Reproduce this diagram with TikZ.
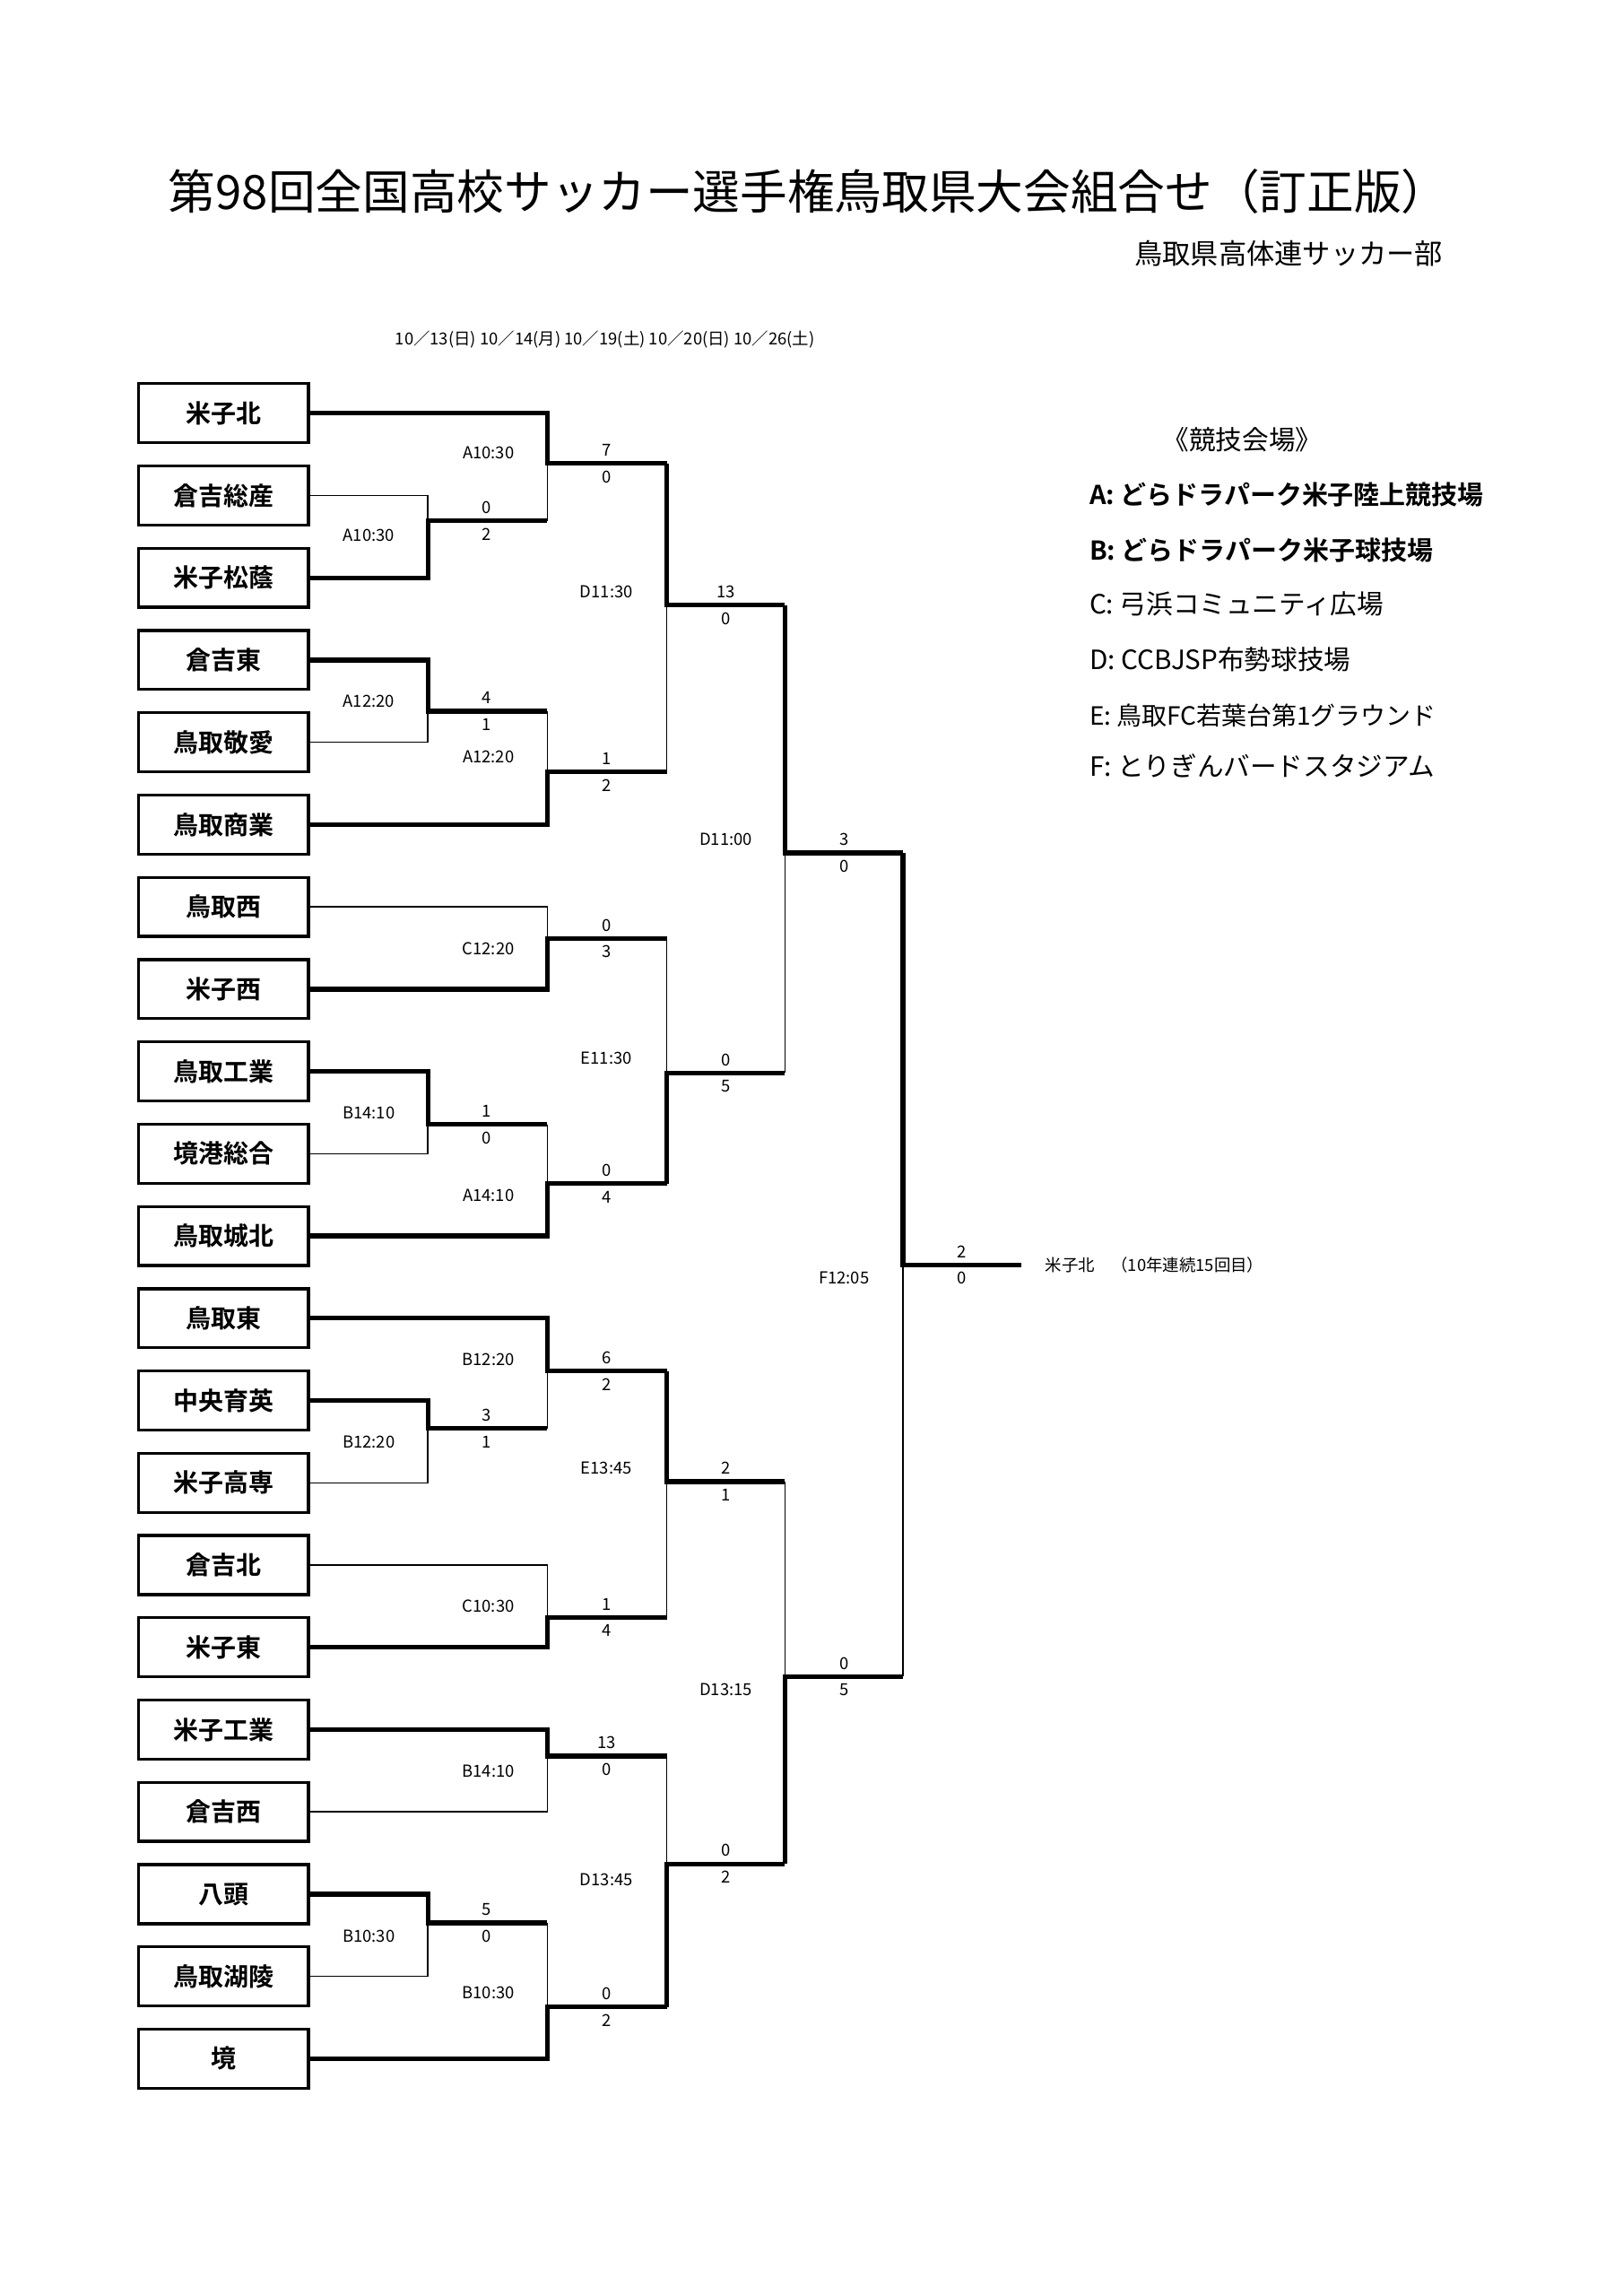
\documentclass[tikz,border=0pt]{standalone}
\usepackage{fontspec}
\setmainfont{Noto Sans CJK JP}[BoldFont={Noto Sans CJK JP Bold}]
\begin{document}
\begin{tikzpicture}[x=0.5pt,y=-0.5pt,
  team/.style={draw,line width=1pt,minimum width=57.5pt,minimum height=20pt,inner sep=0pt,font=\fontsize{8.5}{9}\selectfont\bfseries},
  win/.style={line width=1.6pt},
  lose/.style={line width=0.45pt},
  sm/.style={font=\fontsize{5.6}{6}\selectfont,inner sep=0pt},
  leg/.style={anchor=west,font=\fontsize{9}{10}\selectfont,inner sep=0pt}]
\useasboundingbox (0,0) rectangle (1099.4,1555.8);
\node[font=\fontsize{16}{18}\selectfont] (title) at (548,130) {第98回全国高校サッカー選手権鳥取県大会組合せ（訂正版）};
\node[anchor=east,font=\fontsize{9.5}{10}\selectfont] (org) at (985,172) {鳥取県高体連サッカー部};
\node[sm] (dates) at (410,230) {10／13(日)\ 10／14(月)\ 10／19(土)\ 10／20(日)\ 10／26(土)};
\node[font=\fontsize{9}{10}\selectfont] (lt) at (842,298) {《競技会場》};
\node[leg,font=\fontsize{8.8}{10}\selectfont\bfseries] (la) at (738,335) {A: どらドラパーク米子陸上競技場};
\node[leg,font=\fontsize{8.8}{10}\selectfont\bfseries] (lb) at (738,373) {B: どらドラパーク米子球技場};
\node[leg] (lc) at (738,409) {C: 弓浜コミュニティ広場};
\node[leg] (ld) at (738,447) {D: CCBJSP布勢球技場};
\node[leg,font=\fontsize{8.5}{10}\selectfont] (le) at (738,485) {E: 鳥取FC若葉台第1グラウンド};
\node[leg] (lf) at (738,519) {F: とりぎんバードスタジアム};
\foreach \n/\t in {1/米子北,2/倉吉総産,3/米子松蔭,4/倉吉東,5/鳥取敬愛,6/鳥取商業,7/鳥取西,8/米子西,9/鳥取工業,10/境港総合,11/鳥取城北,12/鳥取東,13/中央育英,14/米子高専,15/倉吉北,16/米子東,17/米子工業,18/倉吉西,19/八頭,20/鳥取湖陵,21/境}
  \node[team] (t\n) at (151.5,{280+55.75*(\n-1)}) {\t};
% top half
\draw[lose] (t2.east) -| (290,353);
\draw[win] (t3.east) -| (290,353) -- (371,353);
\draw[win] (t1.east) -| (371,314) -- (452,314);
\draw[lose] (371,314) -- (371,353);
\draw[win] (t4.east) -| (290,482) -- (371,482);
\draw[lose] (t5.east) -| (290,482);
\draw[win] (t6.east) -| (371,523) -- (452,523);
\draw[lose] (371,482) -- (371,523);
\draw[win] (452,314) -- (452,410) -- (532,410);
\draw[lose] (452,410) -- (452,523);
\draw[lose] (t7.east) -| (371,636);
\draw[win] (t8.east) -| (371,636) -- (452,636);
\draw[win] (t9.east) -| (290,762) -- (371,762);
\draw[lose] (t10.east) -| (290,762);
\draw[win] (t11.east) -| (371,802) -- (452,802);
\draw[lose] (371,762) -- (371,802);
\draw[lose] (452,636) -- (452,727);
\draw[win] (452,802) -- (452,727) -- (532,727);
\draw[win] (532,410) -- (532,578) -- (612,578);
\draw[lose] (532,578) -- (532,727);
% bottom half
\draw[win] (t13.east) -| (290,968) -- (371,968);
\draw[lose] (t14.east) -| (290,968);
\draw[win] (t12.east) -| (371,929) -- (452,929);
\draw[lose] (371,929) -- (371,968);
\draw[lose] (t15.east) -| (371,1096);
\draw[win] (t16.east) -| (371,1096) -- (452,1096);
\draw[win] (452,929) -- (452,1004) -- (532,1004);
\draw[lose] (452,1004) -- (452,1096);
\draw[win] (t17.east) -| (371,1190) -- (452,1190);
\draw[lose] (t18.east) -| (371,1190);
\draw[win] (t19.east) -| (290,1303) -- (371,1303);
\draw[lose] (t20.east) -| (290,1303);
\draw[win] (t21.east) -| (371,1360) -- (452,1360);
\draw[lose] (371,1303) -- (371,1360);
\draw[lose] (452,1190) -- (452,1263);
\draw[win] (452,1360) -- (452,1263) -- (532,1263);
\draw[lose] (532,1004) -- (532,1136);
\draw[win] (532,1263) -- (532,1136) -- (612,1136);
\draw[win] (612,578) -- (612,857) -- (692,857);
\draw[lose] (612,857) -- (612,1136);
\node[sm,anchor=west] (champ) at (708,857) {米子北\quad（10年連続15回目）};
% labels and scores
\foreach \x/\y/\s in {331/307/A10:30,250/363/A10:30,250/475/A12:20,331/513/A12:20,411/401/D11:30,331/643/C12:20,250/754/B14:10,331/810/A14:10,411/717/E11:30,492/569/D11:00,
 331/921/B12:20,250/977/B12:20,331/1088/C10:30,411/995/E13:45,331/1200/B14:10,250/1312/B10:30,331/1350/B10:30,411/1274/D13:45,492/1145/D13:15,572/866/F12:05}
  \node[sm] at (\x,\y) {\s};
\foreach \x/\y/\a/\b in {411/314/7/0,330/353/0/2,330/482/4/1,411/523/1/2,492/410/13/0,411/636/0/3,330/762/1/0,411/802/0/4,492/727/0/5,572/578/3/0,
 411/929/6/2,330/968/3/1,411/1096/1/4,492/1004/2/1,411/1190/13/0,330/1303/5/0,411/1360/0/2,492/1263/0/2,572/1136/0/5,652/857/2/0}
  {\node[sm] at (\x,\y-9) {\a}; \node[sm] at (\x,\y+9) {\b};}
\end{tikzpicture}
\end{document}
